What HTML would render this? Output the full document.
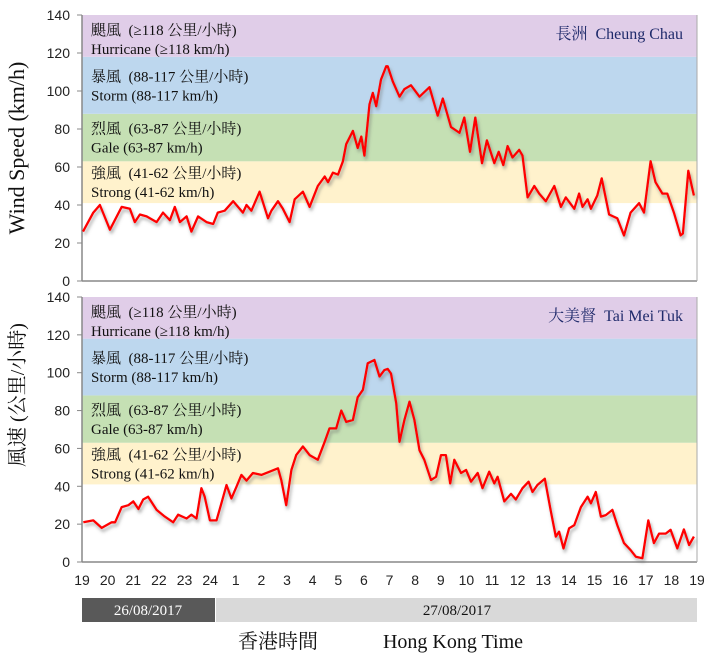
<!DOCTYPE html>
<html><head><meta charset="utf-8"><style>
body{margin:0;background:#fff;}
svg{display:block;}
.tk{font-family:"Liberation Sans","DejaVu Sans",sans-serif;font-size:14px;fill:#222;}
.bt{font-family:"Liberation Serif","Noto Serif CJK SC",serif;font-size:15px;fill:#111;}
.st{font-family:"Liberation Serif","Noto Serif CJK SC",serif;font-size:16px;fill:#1f2a6b;}
</style></head><body>
<svg id="chart" width="704" height="663" xmlns="http://www.w3.org/2000/svg">
<defs><filter id="sh" x="-5%" y="-5%" width="110%" height="120%"><feDropShadow dx="1.5" dy="3" stdDeviation="1.5" flood-color="#666" flood-opacity="0.55"/></filter></defs>
</svg>
<script>
// Cheung Chau: hours since 19:00 on 26/08, wind speed km/h
const ccHours=[0.04,0.44,0.7,1.09,1.55,1.87,2.06,2.26,2.52,2.91,3.16,3.43,3.62,3.82,4.08,4.27,4.53,4.86,5.12,5.3,5.57,5.9,6.28,6.42,6.61,6.93,7.26,7.39,7.65,7.84,8.1,8.3,8.62,8.88,9.2,9.47,9.6,9.79,9.99,10.18,10.31,10.57,10.76,10.9,11.02,11.22,11.35,11.48,11.67,11.87,11.93,12.13,12.39,12.58,12.84,13.17,13.56,13.88,14.08,14.4,14.73,14.92,15.14,15.35,15.61,15.8,16.09,16.26,16.44,16.61,16.8,17.06,17.19,17.39,17.65,17.84,18.1,18.43,18.69,18.88,19.21,19.4,19.53,19.73,19.86,20.11,20.28,20.57,20.89,21.15,21.41,21.74,21.93,22.19,22.38,22.65,22.84,23.1,23.36,23.45,23.66,23.88];
const ccSpeed=[26,36,40,27,39,38,31,35,34,31,36,32,39,31,34,26,34,31,30,36,37,42,36,40,37,47,33,37,42,38,31,43,47,39,50,55,52,57,56,63,72,79,70,76,66,93,99,92,106,113,113,105,97,101,103,97,102,87,96,81,78,86,68,86,62,74,62,68,61,71,65,69,66,44,50,46,42,50,39,44,38,46,39,43,38,45,54,35,33,24,36,41,36,63,52,46,46,36,24,25,58,45];
// Tai Mei Tuk
const tmtHours=[0.05,0.44,0.77,1.16,1.29,1.55,1.81,2.0,2.2,2.39,2.58,2.91,3.23,3.56,3.75,4.08,4.27,4.47,4.66,4.79,4.99,5.25,5.44,5.64,5.83,6.03,6.22,6.42,6.67,7.0,7.32,7.65,7.78,7.97,8.17,8.36,8.62,8.88,9.2,9.47,9.66,9.92,10.12,10.31,10.57,10.76,10.96,11.15,11.41,11.61,11.8,11.93,12.06,12.26,12.39,12.58,12.78,12.97,13.17,13.36,13.62,13.82,14.01,14.2,14.37,14.53,14.79,14.99,15.18,15.44,15.63,15.89,16.09,16.22,16.48,16.74,16.93,17.19,17.43,17.58,17.77,18.06,18.3,18.49,18.62,18.79,19.01,19.21,19.47,19.73,19.86,20.05,20.25,20.44,20.7,20.89,21.15,21.41,21.61,21.87,22.1,22.32,22.52,22.78,22.97,23.23,23.49,23.69,23.88];
const tmtSpeed=[21,22,18,21,21,29,30,32,28,33,34.5,27.5,24,21,25,23,25,23,39,34.5,22,22,31,40.7,33.6,39.8,46,43,47,46,47.7,49.5,43,30,48.6,56.5,61,56.5,54,63.5,70.6,70.6,80,74,75,87,91,105,106.7,98,101.4,102,99.6,84,63.5,75,84.7,75,59,54,43.3,45,56.5,56.5,41.5,54,47,48.6,42.4,47,39,47.7,41.5,45,32,36,33,39,42.4,37,40.7,44,26.6,13.4,16,7.2,17.8,19.5,29,34.5,31,37,24,24.8,27.5,19.5,10,6.3,2.8,2,22,10,15,15,17,7.2,17.2,9,13.4];
const yTicks=[0,20,40,60,80,100,120,140];
const hourLabels=["19","20","21","22","23","24","1","2","3","4","5","6","7","8","9","10","11","12","13","14","15","16","17","18","19"];
const bandMin=[41,63,88,118];
const bandMax=[63,88,118,140];
const bandColors=["#fff2cc","#c5e0b4","#bdd7ee","#e0cde8"];
const bandZh=["強風  (41-62 公里/小時)","烈風  (63-87 公里/小時)","暴風  (88-117 公里/小時)","颶風  (≥118 公里/小時)"];
const bandEn=["Strong (41-62 km/h)","Gale (63-87 km/h)","Storm (88-117 km/h)","Hurricane (≥118 km/h)"];

const NS="http://www.w3.org/2000/svg";
const svg=document.getElementById('chart');
const X0=82,X1=697;
const x=h=>X0+h*(X1-X0)/24;
function el(tag,attrs,parent,text){const e=document.createElementNS(NS,tag);for(const k in attrs)e.setAttribute(k,attrs[k]);if(text!==undefined)e.textContent=text;(parent||svg).appendChild(e);return e;}

function panel(top,bottom,hours,speed,name,station){
  const y=v=>bottom-v*(bottom-top)/140;
  const g=el('g',{});
  
  
  for(let i=0;i<bandMin.length;i++){
    const r=el('rect',{x:X0,y:y(bandMax[i]),width:X1-X0,height:y(bandMin[i])-y(bandMax[i]),fill:bandColors[i]},g);
    
    
    const mid=(y(bandMax[i])+y(bandMin[i]))/2;
    const off=i===3?3:0;
    const t1=el('text',{x:91,y:mid+off-4,class:'bt',style:'white-space:pre'},g,bandZh[i]);
    
    
    const t2=el('text',{x:91,y:mid+off+15,class:'bt'},g,bandEn[i]);
    
    
  }
  el('line',{x1:X0,y1:top,x2:X0,y2:bottom,stroke:'#888','stroke-width':1.5},g);
  el('line',{x1:X0,y1:bottom,x2:X1,y2:bottom,stroke:'#888','stroke-width':1.5},g);
  el('line',{x1:X1,y1:top,x2:X1,y2:bottom,stroke:'#aaa','stroke-width':1},g);
  yTicks.forEach(v=>{
    el('line',{x1:X0-5,y1:y(v),x2:X0,y2:y(v),stroke:'#888'},g);
    const t=el('text',{x:X0-12,y:y(v)+5,'text-anchor':'end',class:'tk'},g,String(v));
    
    
  });
  const d=hours.map((h,i)=>(i?'L':'M')+x(h).toFixed(1)+','+y(speed[i]).toFixed(1)).join('');
  const p=el('path',{d:d,fill:'none',stroke:'#ff0000','stroke-width':2.3,'stroke-linejoin':'round',filter:'url(#sh)'},g);
  
  
  const s=el('text',{x:683,y:top+24,'text-anchor':'end',class:'st',style:'white-space:pre'},g,station);
  
  
}
panel(15,281,ccHours,ccSpeed,'cheung-chau','長洲  Cheung Chau');
panel(297,562,tmtHours,tmtSpeed,'tai-mei-tuk','大美督  Tai Mei Tuk');

hourLabels.forEach((l,i)=>{
  const t=el('text',{x:x(i),y:585,'text-anchor':'middle',class:'tk'},svg,l);
  
  
});
const d1=el('rect',{x:82,y:598,width:133,height:24,fill:'#595959'});


const d2=el('rect',{x:216,y:598,width:481,height:24,fill:'#d9d9d9'});


const dt1=el('text',{x:148,y:615,'text-anchor':'middle',class:'bt',style:'fill:#fff'},svg,'26/08/2017');


const dt2=el('text',{x:457,y:615,'text-anchor':'middle',class:'bt'},svg,'27/08/2017');


const xt1=el('text',{x:278,y:648,'text-anchor':'middle',style:'font-family:"Liberation Serif","Noto Serif CJK SC",serif;font-size:20px;fill:#111'},svg,'香港時間');


const xt2=el('text',{x:453,y:648,'text-anchor':'middle',style:'font-family:"Liberation Serif",serif;font-size:20px;fill:#111'},svg,'Hong Kong Time');


const yt1=el('text',{x:0,y:0,transform:'translate(24,148) rotate(-90)','text-anchor':'middle',style:'font-family:"Liberation Serif",serif;font-size:22px;fill:#111'},svg,'Wind Speed (km/h)');


const yt2=el('text',{x:0,y:0,transform:'translate(24,395) rotate(-90)','text-anchor':'middle',style:'font-family:"Liberation Serif","Noto Serif CJK SC",serif;font-size:20px;fill:#111'},svg,'風速 (公里/小時)');


</script>
</body></html>
